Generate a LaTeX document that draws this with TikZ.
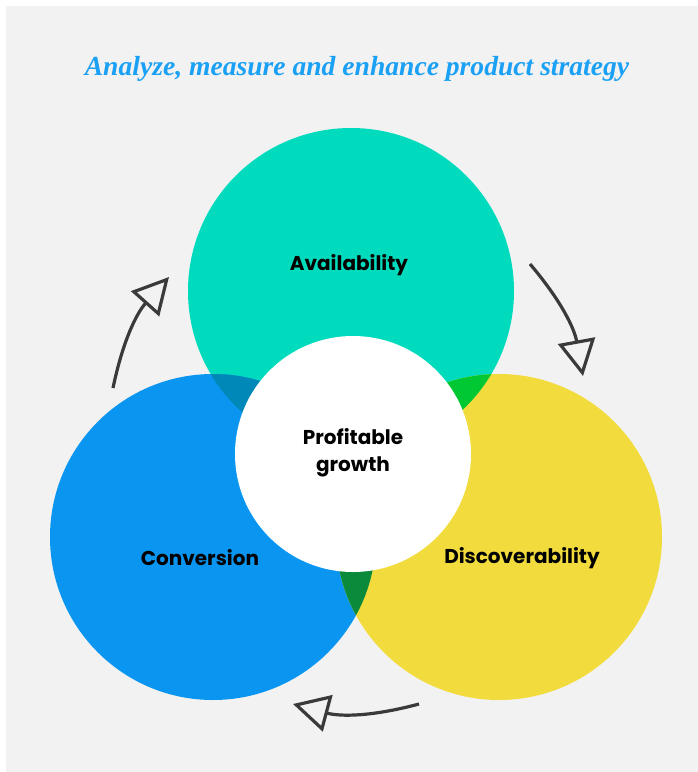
\documentclass[tikz,border=0pt]{standalone}
\usepackage{fontspec}
\setsansfont{Poppins}
\newfontfamily\titlefont{Liberation Serif}
\usetikzlibrary{arrows.meta}
\definecolor{bggray}{HTML}{F2F2F2}
\definecolor{availteal}{HTML}{00DBBD}
\definecolor{convblue}{HTML}{0A96F0}
\definecolor{discyellow}{HTML}{F2DB3C}
\definecolor{tealblue}{HTML}{0088B8}
\definecolor{tealyellow}{HTML}{00C832}
\definecolor{blueyellow}{HTML}{0A8A3A}
\definecolor{titleblue}{HTML}{1AA0F5}
\definecolor{arrowgray}{HTML}{3A3A3A}
\tikzset{
  label text/.style={font=\sffamily\bfseries\fontsize{15}{20}\selectfont, text=black, align=center},
  cycle arrow/.style={
    draw=arrowgray,
    line width=2.4pt,
    -{Triangle[open, length=27pt, width=28pt, line width=2.4pt]}
  }
}

\begin{document}
\begin{tikzpicture}[x=0.75pt, y=-0.75pt]
  % Background
  \fill[white] (0,0) rectangle (698,772);
  \fill[bggray] (6,6) rectangle (698,772);
  \useasboundingbox (0,0) rectangle (698,772);

  % Title
  \node[font=\titlefont\bfseries\itshape\fontsize{20.7}{23}\selectfont, text=titleblue] (title) at (357,69) {Analyze, measure and enhance product strategy};

  % Circles
  \fill[availteal] (351,291) circle[radius=163];
  \fill[convblue] (213,537) circle[radius=163];
  \fill[discyellow] (499,537) circle[radius=163];

  % Overlaps
  \begin{scope}
    \clip (351,291) circle[radius=163];
    \fill[tealblue] (213,537) circle[radius=163];
    \fill[tealyellow] (499,537) circle[radius=163];
  \end{scope}
  \begin{scope}
    \clip (213,537) circle[radius=163];
    \fill[blueyellow] (499,537) circle[radius=163];
  \end{scope}

  % Centre
  \fill[white] (353,454) circle[radius=118];

  % Labels
  \node[label text] (avail) at (349,265) {Availability};
  \node[label text] (conv) at (200,558) {Conversion};
  \node[label text] (disc) at (522,558) {Discoverability};
  \node[label text] (growth) at (353,453) {Profitable\\growth};

  % Arrows
  \coordinate (a1) at (113,388);
  \coordinate (a2) at (169,277);
  \coordinate (b1) at (530,264);
  \coordinate (b2) at (583,376);
  \coordinate (c1) at (419,704);
  \coordinate (c2) at (293,704);
  \draw[cycle arrow] (a1) to[bend left=15] (a2);
  \draw[cycle arrow] (b1) to[bend left=15] (b2);
  \draw[cycle arrow] (c1) to[bend left=15] (c2);
\end{tikzpicture}
\end{document}
